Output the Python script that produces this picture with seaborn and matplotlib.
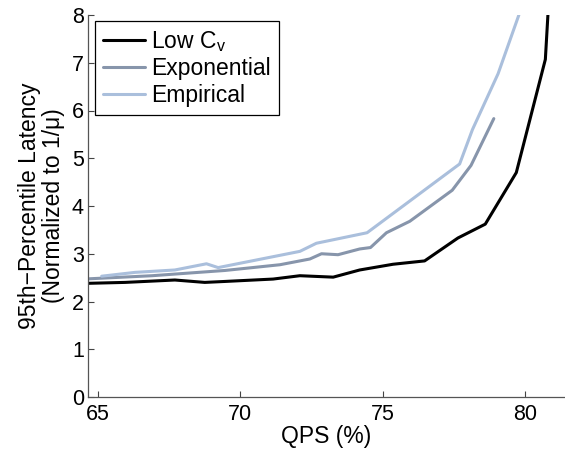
import matplotlib
matplotlib.use('Agg')
from matplotlib import pyplot as plt
import seaborn as sns

# values
qps_low = [64.6, 65.95, 67.7, 68.75, 69.46, 71.15, 72.09, 73.26, 74.19, 75.36, 76.47, 77.64, 78.6, 79.69, 80.71, 80.8]
lat_low = [2.38, 2.40, 2.45, 2.40, 2.42, 2.47, 2.54, 2.51, 2.66, 2.78, 2.85, 3.33, 3.62, 4.70, 7.07, 8.0]

qps_exp = [64.5, 66.9, 69.46, 71.39, 72.44, 72.85, 73.43, 74.19, 74.57, 75.13, 75.95, 77.44, 78.1, 78.9]
lat_exp = [2.47, 2.54, 2.65, 2.77, 2.89, 3.0, 2.98, 3.10, 3.13, 3.44, 3.68, 4.33, 4.85, 5.83]

qps_emp = [65.13, 66.3, 67.7, 68.81, 69.22, 72.09, 72.67, 74.45, 77.7, 78.15, 79.05, 79.78]
lat_emp = [2.53, 2.61, 2.66, 2.79, 2.71, 3.05, 3.22, 3.44, 4.88, 5.60, 6.77, 8.0]

x_ticks = [65, 70, 75, 80]
y_ticks = [0, 1, 2, 3, 4, 5, 6, 7, 8]


def main():
    sns.set_style('white', {'text.color': 'black', 'axes.labelcolor': 'black',
                            'xtick.color': 'black', 'ytick.color': 'black'})
    plt.rcParams['font.family'] = ['Liberation Sans', 'DejaVu Sans']
    plt.rcParams['mathtext.fontset'] = 'custom'
    plt.rcParams['mathtext.rm'] = 'Liberation Sans'
    plt.rcParams['mathtext.it'] = 'Liberation Sans'

    fig = plt.figure(figsize=(5.65, 4.5), dpi=100)
    ax = fig.add_axes([88 / 565, 53 / 450, 477 / 565, 382 / 450])

    sns.lineplot(x=qps_low, y=lat_low, ax=ax, color='black', lw=2.2,
                 label=r'Low C$_\mathregular{v}$', estimator=None, sort=False)
    sns.lineplot(x=qps_exp, y=lat_exp, ax=ax, color='#8795ab', lw=2.2,
                 label='Exponential', estimator=None, sort=False)
    sns.lineplot(x=qps_emp, y=lat_emp, ax=ax, color='#aabfdc', lw=2.2,
                 label='Empirical', estimator=None, sort=False)

    ax.set_xlim(64.65, 81.4)
    ax.set_ylim(0, 8)
    ax.set_xticks(x_ticks)
    ax.set_yticks(y_ticks)
    ax.tick_params(direction='in', length=4, width=0.8, color='#444444',
                   labelcolor='black', labelsize=15.5, bottom=True, left=True)
    ax.tick_params(axis='x', pad=5)
    ax.tick_params(axis='y', pad=3)
    for side in ['top', 'right']:
        ax.spines[side].set_visible(False)
    for side in ['left', 'bottom']:
        ax.spines[side].set_color('#555555')
        ax.spines[side].set_linewidth(0.9)

    ax.set_xlabel('QPS (%)', fontsize=16.5, labelpad=0, color='black')
    ax.set_ylabel('95th\u2212Percentile Latency\n(Normalized to 1/\u03bc)', fontsize=16.5,
                  labelpad=5, linespacing=1.05, color='black')

    leg = ax.legend(loc='upper left', bbox_to_anchor=(0.0147, 0.984), fontsize=16.5,
                    frameon=True, fancybox=False, edgecolor='black', framealpha=1,
                    handlelength=1.85, handletextpad=0.25, labelspacing=0.15,
                    borderpad=0.35, borderaxespad=0)
    leg.get_frame().set_linewidth(0.9)
    for t in leg.get_texts():
        t.set_color('black')

    fig.savefig('out.png', dpi=100)


if __name__ == '__main__':
    main()
